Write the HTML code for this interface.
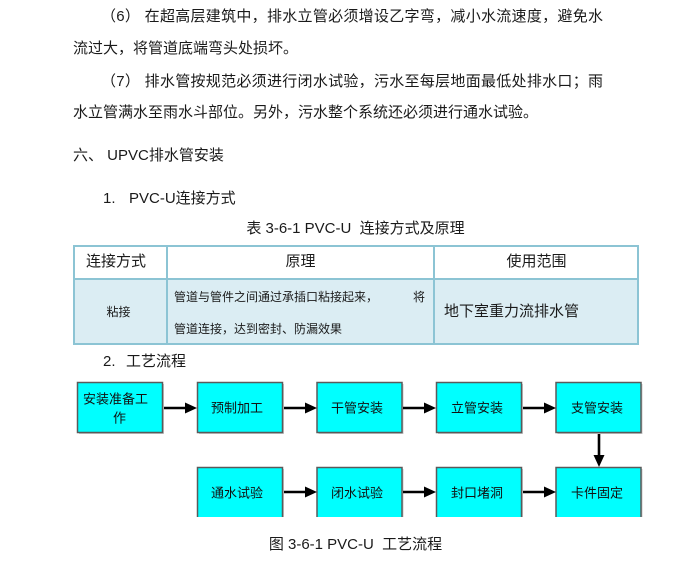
<!DOCTYPE html>
<html>
<head>
<meta charset="utf-8">
<style>
  html,body{margin:0;padding:0;background:#fff;}
  body{width:687px;height:564px;position:relative;overflow:hidden;
       font-family:"Liberation Sans","Noto Sans CJK SC",sans-serif;color:#1a1a1a;}
  .t{position:absolute;font-size:15px;line-height:20px;white-space:nowrap;}
  .j{text-align:justify;text-align-last:justify;white-space:normal;}
  .cell{position:absolute;box-sizing:border-box;}
</style>
</head>
<body>

<!-- paragraphs -->
<div class="t j" style="left:101px;top:7px;width:502px;">（6） 在超高层建筑中，排水立管必须增设乙字弯，减小水流速度，避免水</div>
<div class="t" style="left:73px;top:39px;">流过大，将管道底端弯头处损坏。</div>
<div class="t j" style="left:101px;top:72px;width:502px;">（7） 排水管按规范必须进行闭水试验，污水至每层地面最低处排水口；雨</div>
<div class="t" style="left:73px;top:103px;">水立管满水至雨水斗部位。另外，污水整个系统还必须进行通水试验。</div>

<div class="t" style="left:73px;top:146px;">六、 UPVC排水管安装</div>

<div class="t" style="left:103px;top:189px;">1.</div>
<div class="t" style="left:129px;top:189px;">PVC-U连接方式</div>

<div class="t" style="left:73px;top:219px;width:565px;text-align:center;">表 3-6-1 PVC-U&nbsp;&nbsp;连接方式及原理</div>

<!-- table -->
<div class="cell" style="left:73px;top:245px;width:566px;height:100px;border:2px solid #8cc4d4;background:#fff;"></div>
<div class="cell" style="left:75px;top:280px;width:562px;height:63px;background:#dbedf3;"></div>
<div class="cell" style="left:73px;top:278px;width:566px;height:2px;background:#8cc4d4;"></div>
<div class="cell" style="left:166px;top:245px;width:2px;height:100px;background:#8cc4d4;"></div>
<div class="cell" style="left:433px;top:245px;width:2px;height:100px;background:#8cc4d4;"></div>

<div class="t" style="left:86px;top:252px;">连接方式</div>
<div class="t" style="left:168px;top:252px;width:265px;text-align:center;">原理</div>
<div class="t" style="left:435px;top:252px;width:203px;text-align:center;">使用范围</div>

<div class="t" style="left:73px;top:302px;width:91px;text-align:center;font-size:12px;">粘接</div>
<div class="t" style="left:174px;top:287px;font-size:12px;">管道与管件之间通过承插口粘接起来，</div>
<div class="t" style="left:413px;top:287px;font-size:12px;">将</div>
<div class="t" style="left:174px;top:319px;font-size:12px;">管道连接，达到密封、防漏效果</div>
<div class="t" style="left:444px;top:302px;">地下室重力流排水管</div>

<div class="t" style="left:103px;top:352px;">2.</div>
<div class="t" style="left:126px;top:352px;">工艺流程</div>

<!-- flowchart -->
<svg width="687" height="564" style="position:absolute;left:0;top:0;" xmlns="http://www.w3.org/2000/svg">
  <!-- soft shadows -->
  <g fill="#c8c8c8">
    <rect x="79" y="384" width="85" height="50"/>
    <rect x="199" y="384" width="85" height="50"/>
    <rect x="318.5" y="384" width="85" height="50"/>
    <rect x="438" y="384" width="85" height="50"/>
    <rect x="557.5" y="384" width="85" height="50"/>
    <rect x="199" y="469" width="85" height="48"/>
    <rect x="318.5" y="469" width="85" height="48"/>
    <rect x="438" y="469" width="85" height="48"/>
    <rect x="557.5" y="469" width="85" height="48"/>
  </g>
  <g fill="#00ffff" stroke="#5a5a5a" stroke-width="1.5">
    <rect x="77.5" y="382.5" width="85" height="50"/>
    <rect x="197.5" y="382.5" width="85" height="50"/>
    <rect x="317" y="382.5" width="85" height="50"/>
    <rect x="436.5" y="382.5" width="85" height="50"/>
    <rect x="556" y="382.5" width="85" height="50"/>
  </g>
  <g fill="#00ffff" stroke="none">
    <rect x="197.5" y="467.5" width="85" height="50"/>
    <rect x="317" y="467.5" width="85" height="50"/>
    <rect x="436.5" y="467.5" width="85" height="50"/>
    <rect x="556" y="467.5" width="85" height="50"/>
  </g>
  <g fill="none" stroke="#5a5a5a" stroke-width="1.5">
    <path d="M197.5 517 V467.5 H282.5 V517"/>
    <path d="M317 517 V467.5 H402 V517"/>
    <path d="M436.5 517 V467.5 H521.5 V517"/>
    <path d="M556 517 V467.5 H641 V517"/>
  </g>
  <rect x="0" y="517" width="687" height="10" fill="#fff"/>
  <!-- arrows -->
  <g stroke="#000" stroke-width="2.6">
    <line x1="164" y1="408" x2="188" y2="408"/>
    <line x1="284" y1="408" x2="308" y2="408"/>
    <line x1="403" y1="408" x2="427" y2="408"/>
    <line x1="523" y1="408" x2="547" y2="408"/>
    <line x1="599" y1="434" x2="599" y2="458"/>
    <line x1="284" y1="492" x2="308" y2="492"/>
    <line x1="403" y1="492" x2="427" y2="492"/>
    <line x1="523" y1="492" x2="547" y2="492"/>
  </g>
  <g fill="#000">
    <polygon points="185,402.5 197,408 185,413.5"/>
    <polygon points="305,402.5 317,408 305,413.5"/>
    <polygon points="424,402.5 436,408 424,413.5"/>
    <polygon points="544,402.5 556,408 544,413.5"/>
    <polygon points="593.5,455 599,467 604.5,455"/>
    <polygon points="305,486.5 317,492 305,497.5"/>
    <polygon points="424,486.5 436,492 424,497.5"/>
    <polygon points="544,486.5 556,492 544,497.5"/>
  </g>
  <g font-family="Liberation Sans, Noto Sans CJK SC, sans-serif" font-size="13" fill="#111" dominant-baseline="central">
    <text x="83" y="399">安装准备工</text>
    <text x="113" y="418">作</text>
    <text x="211" y="408">预制加工</text>
    <text x="331" y="408">干管安装</text>
    <text x="451" y="408">立管安装</text>
    <text x="571" y="408">支管安装</text>
    <text x="211" y="493">通水试验</text>
    <text x="331" y="493">闭水试验</text>
    <text x="451" y="493">封口堵洞</text>
    <text x="571" y="493">卡件固定</text>
  </g>
</svg>

<div class="t" style="left:73px;top:535px;width:565px;text-align:center;">图 3-6-1 PVC-U&nbsp;&nbsp;工艺流程</div>

</body>
</html>
